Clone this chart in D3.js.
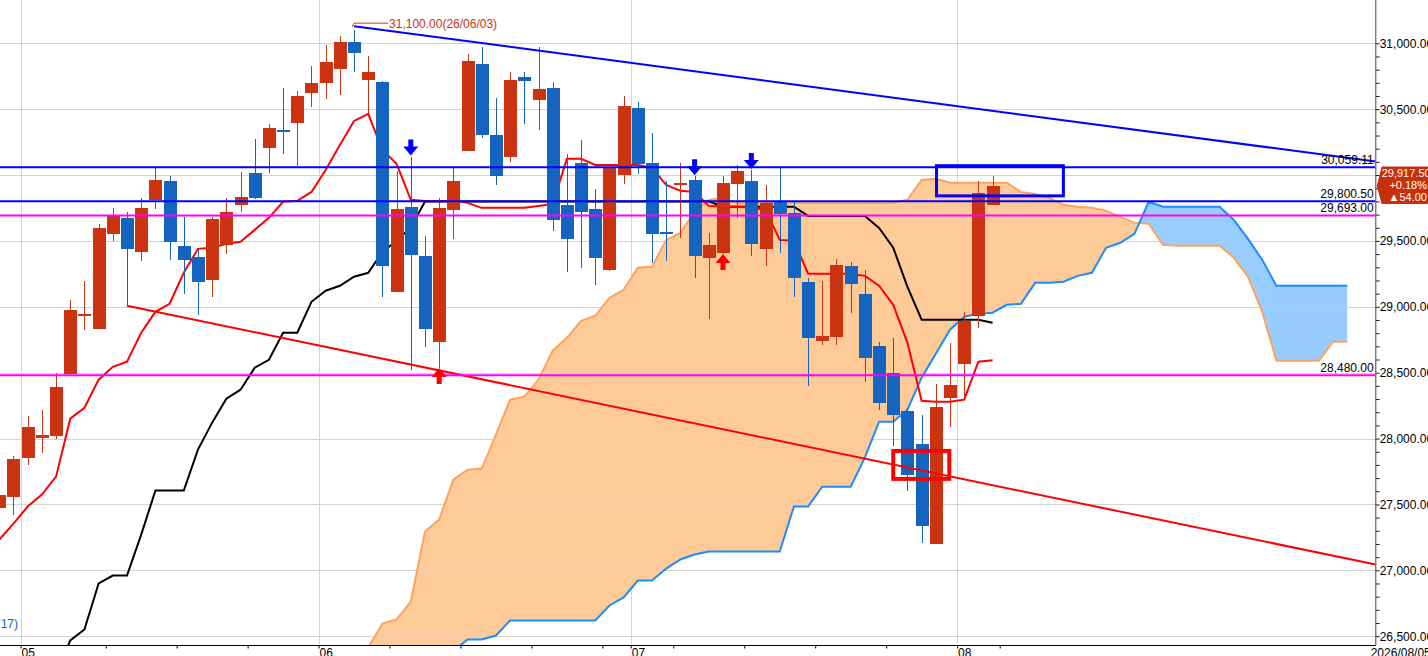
<!DOCTYPE html>
<html>
<head>
<meta charset="utf-8">
<script src="https://cdn.jsdelivr.net/npm/d3@7"></script>
<style>
body { margin: 0; background: #fff; overflow: hidden; }
text { font-family: "Liberation Sans", Arial, sans-serif; }
</style>
</head>
<body>
<div id="chart-area"></div>
<script>
// trading days shown (one candle each)
const dates = [
  "2026-04-29","2026-04-30",
  "2026-05-01","2026-05-04","2026-05-05","2026-05-06","2026-05-07","2026-05-08",
  "2026-05-11","2026-05-12","2026-05-13","2026-05-14","2026-05-15",
  "2026-05-18","2026-05-19","2026-05-20","2026-05-21","2026-05-22",
  "2026-05-25","2026-05-26","2026-05-27","2026-05-28","2026-05-29",
  "2026-06-01","2026-06-02","2026-06-03","2026-06-04","2026-06-05",
  "2026-06-08","2026-06-09","2026-06-10","2026-06-11","2026-06-12",
  "2026-06-15","2026-06-16","2026-06-17","2026-06-18","2026-06-19",
  "2026-06-22","2026-06-23","2026-06-24","2026-06-25","2026-06-26",
  "2026-06-29","2026-06-30",
  "2026-07-01","2026-07-02","2026-07-03",
  "2026-07-06","2026-07-07","2026-07-08","2026-07-09","2026-07-10",
  "2026-07-13","2026-07-14","2026-07-15","2026-07-16","2026-07-17",
  "2026-07-20","2026-07-21","2026-07-22","2026-07-23","2026-07-24",
  "2026-07-27","2026-07-28","2026-07-29","2026-07-30","2026-07-31",
  "2026-08-03","2026-08-04","2026-08-05"
];

const open = [27470,27554,27850,28002,28017,28490,28927,28828,29549,29677,
  29417,29812,29956,29463,29379,29200,29470,29776,30016,30208,
  30343,30398,30623,30701,30807,31010,30722,30707,29116,29759,
  29387,28730,29738,30186,30843,30305,30140,30742,30572,30661,
  29774,30092,29743,29276,30001,30509,30092,29571,29928,29963,
  29367,29405,29935,29956,29442,29806,29711,29190,28742,28773,
  29311,29099,28705,28500,28212,27961,27201,28310,28563,28930,
  29776];
const high = [27600,27870,28168,28219,28498,29053,29197,29630,29751,29721,
  29825,30057,29994,29683,29438,29680,29827,30024,30277,30388,
  30659,30638,30830,30987,31055,31100,30904,30715,30032,30140,
  29539,29825,30057,30919,30974,30585,30785,30785,30970,30707,
  30160,30267,29895,30070,30600,30555,30320,29956,30092,29990,
  29561,29994,30080,30039,29928,30062,29799,29218,29197,29364,
  29341,29281,28735,28765,28232,28181,28416,28727,28962,29956,
  29996];
const low = [27440,27418,27797,27888,28000,28480,28821,28828,29503,29008,
  29349,29743,29357,29097,28937,29078,29402,29721,29820,30019,
  30163,30072,30517,30580,30610,30785,30469,29071,29110,28517,
  28692,28535,29518,30180,30280,29928,30100,30388,30345,29579,
  29268,29298,29162,29270,29935,30011,29329,29349,29526,29215,
  28911,29400,29677,29389,29306,29408,29078,28402,28712,28707,
  28955,28432,28214,27941,27605,27208,27200,28085,28320,28839,
  29770];
const close = [27575,27848,28090,28030,28394,28978,28942,29599,29693,29438,
  29751,29963,29495,29359,29185,29668,29721,29834,29829,30358,
  30333,30600,30699,30858,31010,30929,30785,29306,29743,29395,
  28828,29749,29956,30866,30305,29996,30722,30716,30653,29660,
  29511,29721,29367,30064,30525,30085,29549,29549,29943,29389,
  29470,29941,30032,29473,29789,29703,29222,28767,28780,29319,
  29175,28614,28272,28181,27726,27334,28242,28409,28894,29863.5,
  29917.5];

// conversion line (red) and base line (black), one value per candle
const tenkan = [27233,27355,27484,27575,27711,28151,28234,28447,28545,28583,
  28803,28962,29023,29258,29440,29448,29478,29493,29584,29675,
  29797,29804,29872,30039,30229,30411,30464,30191,30085,29812,
  29804,29804,29804,29789,29751,29751,29751,29751,29766,29781,
  30123,30123,30077,30077,30077,30077,30054,29926,29880,29872,
  29766,29759,29759,29751,29736,29508,29501,29251,29251,29251,
  29251,29235,29160,29015,28727,28287,28280,28280,28295,28583,
  28595];
const kijun = [null,null,null,null,26200,26468,26551,26900,26960,26960,
  27271,27605,27605,27605,27916,28121,28303,28371,28538,28598,
  28803,28803,29038,29122,29160,29228,29258,29417,29501,29602,
  29800,29800,29800,29800,29800,29800,29800,29800,29800,29800,
  29800,29800,29800,29800,29800,29800,29800,29800,29800,29800,
  29800,29760,29760,29760,29760,29760,29760,29690,29690,29690,
  29690,29690,29599,29448,29152,28902,28902,28902,28902,28902,
  28879];

// cloud spans, starting at bar index 26 and running to bar 95
const cloudStart = 26;
const spanA = [26414,26596,26627,26763,27294,27385,27688,27764,27772,28030,
  28295,28318,28447,28667,28765,28894,28932,29069,29129,29296,
  29304,29508,29561,29721,29812,29827,29789,29781,29789,29789,
  29789,29789,29789,29789,29789,29789,29789,29789,29812,29963,
  29971,29941,29941,29941,29941,29941,29872,29857,29827,29774,
  29759,29751,29728,29683,29637,29630,29470,29463,29463,29463,
  29463,29372,29228,28962,28591,28591,28591,28591,28735,28735];
const spanB = [26250,26250,26250,26250,26250,26250,26384,26475,26475,26505,
  26619,26619,26619,26619,26619,26619,26619,26733,26794,26922,
  26922,27013,27082,27120,27142,27142,27142,27142,27142,27142,
  27484,27484,27635,27635,27635,27855,28128,28128,28219,28462,
  28644,28826,28925,28947,28955,29015,29023,29182,29182,29190,
  29235,29258,29448,29486,29554,29797,29759,29759,29759,29759,
  29759,29660,29516,29357,29160,29160,29160,29160,29160,29160];

// price levels and trend lines
const levels = [30059.11, 29800.50, 29693.00, 28480.00];
const trendDown = [[25, 31130], [97, 30102]];
const trendUp = [[9, 29008], [97, 27044]];

// signals (bar index)
const sellSignals = [29, 49, 53];
const buySignals = [31, 51];

// highlighted zones [bar from, bar to, price top, price bottom]
const zoneBlue = [66.05, 74.99, 30071, 29842];
const zoneRed = [63.0, 66.95, 27906, 27694];

const highIndex = 25;
const highLabel = "31,100.00(26/06/03)";
const lastChangePct = "+0.18%";
const lastChange = "\u25B254.00";

const yTickValues = d3.range(26500, 31001, 100);

// ---------------------------------------------------------------
const width = 1428, height = 656;
const plotRight = 1375.7, plotBottom = 645;
const red = "#cc3311", blue = "#1565c0";

const x = d3.scaleLinear().domain([0, 97]).range([-0.7, plotRight]);
const y = d3.scaleLinear().domain([26500, 31000]).range([636.2, 43.3]);
const fmt = d3.format(",.2f");

let svg = d3.select("#chart-area").append("svg")
  .attr("width", width)
  .attr("height", height);

let defs = svg.append("defs");
defs.append("clipPath").attr("id", "plotClip")
  .append("rect").attr("x", 0).attr("y", 0)
  .attr("width", plotRight).attr("height", plotBottom);

let cloud = spanA.map((a, i) => ({ k: cloudStart + i, a: a, b: spanB[i] }));

defs.append("clipPath").attr("id", "aboveB")
  .append("path")
  .attr("d", d3.area().x(d => x(d.k)).y0(-50).y1(d => y(d.b))(cloud));
defs.append("clipPath").attr("id", "belowB")
  .append("path")
  .attr("d", d3.area().x(d => x(d.k)).y0(d => y(d.b)).y1(2000)(cloud));

let plot = svg.append("g").attr("clip-path", "url(#plotClip)");

// grid
let monthMarks = [], weekMarks = [];
let parse = d3.timeParse("%Y-%m-%d");
let lastMonthAt = -10;
dates.forEach((d, i) => {
  if (i === 0) return;
  let t = parse(d), p = parse(dates[i - 1]);
  if (t.getMonth() !== p.getMonth()) {
    monthMarks.push({ k: i - 0.5, label: d3.timeFormat("%m")(t) });
    lastMonthAt = i;
  } else if (t.getDay() === 1 && i - lastMonthAt > 2) {
    weekMarks.push(i - 0.5);
  }
});
weekMarks.push(dates.length - 0.5);

function drawGrid(g, opacity) {
  g.attr("shape-rendering", "crispEdges").attr("opacity", opacity);
  g.selectAll("line.h").data(yTickValues.filter(v => v % 500 === 0)).join("line")
    .attr("class", "h")
    .attr("x1", 0).attr("x2", plotRight)
    .attr("y1", d => Math.round(y(d)) + 0.5).attr("y2", d => Math.round(y(d)) + 0.5)
    .attr("stroke", "#d3d3d3");
  g.selectAll("line.v").data(monthMarks).join("line")
    .attr("class", "v")
    .attr("x1", d => Math.round(x(d.k)) + 0.5).attr("x2", d => Math.round(x(d.k)) + 0.5)
    .attr("y1", 0).attr("y2", plotBottom)
    .attr("stroke", "#d3d3d3");
}
drawGrid(plot.append("g"), 1);

// cloud fill
let fillArea = d3.area().x(d => x(d.k)).y0(d => y(d.a)).y1(d => y(d.b));
plot.append("path").attr("d", fillArea(cloud))
  .attr("fill", "#fdca98").attr("clip-path", "url(#aboveB)");
plot.append("path").attr("d", fillArea(cloud))
  .attr("fill", "#99ccff").attr("clip-path", "url(#belowB)");

drawGrid(plot.append("g"), 0.3);

// cloud edges
plot.append("path")
  .attr("d", d3.line().x(d => x(d.k)).y(d => y(d.a))(cloud))
  .attr("fill", "none").attr("stroke", "#ffa35c").attr("stroke-width", 2);
plot.append("path")
  .attr("d", d3.line().x(d => x(d.k)).y(d => y(d.b))(cloud))
  .attr("fill", "none").attr("stroke", "#1a8cff").attr("stroke-width", 2);

// base and conversion lines
let idxLine = d3.line().defined(d => d.v != null).x(d => x(d.k)).y(d => y(d.v));
plot.append("path")
  .attr("d", idxLine(kijun.map((v, k) => ({ k: k, v: v }))))
  .attr("fill", "none").attr("stroke", "#000").attr("stroke-width", 2);
plot.append("path")
  .attr("d", idxLine(tenkan.map((v, k) => ({ k: k, v: v }))))
  .attr("fill", "none").attr("stroke", "#ff0000").attr("stroke-width", 2);

// candles
let candles = dates.map((d, i) => ({ k: i, o: open[i], h: high[i], l: low[i], c: close[i] }));
let cg = plot.append("g").attr("shape-rendering", "crispEdges");
cg.selectAll("line").data(candles).join("line")
  .attr("x1", d => Math.round(x(d.k)) + 0.5).attr("x2", d => Math.round(x(d.k)) + 0.5)
  .attr("y1", d => y(d.h)).attr("y2", d => y(d.l))
  .attr("stroke", d => d.c >= d.o ? red : blue);
cg.selectAll("rect").data(candles).join("rect")
  .attr("x", d => Math.round(x(d.k)) - 6)
  .attr("width", 13)
  .attr("y", d => y(Math.max(d.o, d.c)))
  .attr("height", d => Math.max(2, Math.abs(y(d.o) - y(d.c))))
  .attr("fill", d => d.c >= d.o ? red : blue);

// trend lines
let ptLine = d3.line().x(d => x(d[0])).y(d => y(d[1]));
plot.append("path").attr("d", ptLine(trendDown))
  .attr("fill", "none").attr("stroke", "#0000ff").attr("stroke-width", 2);
plot.append("path").attr("d", ptLine(trendUp))
  .attr("fill", "none").attr("stroke", "#ff0000").attr("stroke-width", 2);

// horizontal levels
let levelColor = ["#0000ff", "#0000ff", "#ff00ff", "#ff00ff"];
plot.selectAll("line.level").data(levels).join("line")
  .attr("class", "level")
  .attr("x1", 0).attr("x2", plotRight)
  .attr("y1", d => y(d)).attr("y2", d => y(d))
  .attr("stroke", (d, i) => levelColor[i]).attr("stroke-width", 2);

svg.selectAll("text.level").data(levels).join("text")
  .attr("class", "level")
  .attr("x", plotRight - 2)
  .attr("y", d => y(d) - 3.5)
  .attr("text-anchor", "end")
  .attr("font-size", "12px")
  .attr("fill", "#000")
  .text(d => fmt(d));

// zones
[[zoneBlue, "#0000ff", 3], [zoneRed, "#ff0000", 4]].forEach(([z, col, w]) => {
  svg.append("rect")
    .attr("x", x(z[0])).attr("y", y(z[2]))
    .attr("width", x(z[1]) - x(z[0])).attr("height", y(z[3]) - y(z[2]))
    .attr("fill", "none").attr("stroke", col).attr("stroke-width", w);
});

// signal arrows
sellSignals.forEach(k => {
  let cx = x(k), t = y(high[k]) - 1;
  svg.append("path")
    .attr("d", `M${cx - 2.5},${t - 16}h5v7h5L${cx},${t}L${cx - 7.5},${t - 9}h5Z`)
    .attr("fill", "#0000ff");
});
buySignals.forEach(k => {
  let cx = x(k), t = y(low[k]);
  svg.append("path")
    .attr("d", `M${cx - 2.5},${t + 16}h5v-7h5L${cx},${t}L${cx - 7.5},${t + 9}h5Z`)
    .attr("fill", "#ff0000");
});

// high annotation
let hx = x(highIndex), hy = y(high[highIndex]);
svg.append("path")
  .attr("d", `M${hx - 2},${hy - 3}L${hx},${hy - 7}H${hx + 34}`)
  .attr("fill", "none").attr("stroke", red).attr("stroke-width", 1);
svg.append("text")
  .attr("x", hx + 35).attr("y", hy - 2.5)
  .attr("font-size", "12px").attr("fill", red)
  .text(highLabel);

// last price tag position (axis labels under it are hidden)
let lastClose = close[close.length - 1];
let ly = y(lastClose);
let tagTop = ly - 19.5, tagBottom = ly + 18;

// right axis
svg.append("line")
  .attr("x1", plotRight).attr("x2", plotRight)
  .attr("y1", 0).attr("y2", plotBottom)
  .attr("stroke", "#808080").attr("stroke-width", 1.5);
let yAxis = d3.axisRight(y)
  .tickValues(yTickValues)
  .tickSize(4)
  .tickPadding(0)
  .tickFormat(d => (d % 500 === 0 && (y(d) < tagTop - 6 || y(d) > tagBottom + 6)) ? fmt(d) : "");
svg.append("g")
  .attr("transform", "translate(" + plotRight + ",0)")
  .call(yAxis)
  .call(g => g.select(".domain").remove())
  .call(g => g.selectAll(".tick line").attr("stroke", "#222"))
  .call(g => g.selectAll(".tick text")
    .attr("font-size", "12px")
    .attr("font-family", "Liberation Sans, Arial, sans-serif")
    .attr("fill", "#000"));

// bottom axis
svg.append("line")
  .attr("x1", 0).attr("x2", plotRight)
  .attr("y1", plotBottom + 0.5).attr("y2", plotBottom + 0.5)
  .attr("stroke", "#000");
let xAxis = d3.axisBottom(x)
  .tickValues(weekMarks.concat(monthMarks.map(m => m.k)))
  .tickSize(3)
  .tickFormat("");
svg.append("g")
  .attr("transform", "translate(0," + (plotBottom + 0.5) + ")")
  .call(xAxis)
  .call(g => g.select(".domain").remove());
svg.selectAll("text.month").data(monthMarks).join("text")
  .attr("class", "month")
  .attr("x", d => x(d.k) + 1)
  .attr("y", 657)
  .attr("font-size", "12px")
  .attr("fill", "#000")
  .text(d => d.label);
svg.append("text")
  .attr("x", plotRight - 5).attr("y", 657)
  .attr("font-size", "12px").attr("fill", "#000")
  .text(dates[dates.length - 1].replace(/-/g, "/"));

// last price tag
svg.append("path")
  .attr("d", `M${plotRight + 1},${ly}L${plotRight + 6},${tagTop}H${width}V${tagBottom}H${plotRight + 6}Z`)
  .attr("fill", "#c8300c");
let tag = svg.append("g").attr("font-size", "11px").attr("fill", "#fff");
tag.append("text").attr("x", plotRight + 6).attr("y", ly - 8.5).text(fmt(lastClose));
tag.append("text").attr("x", width - 1).attr("y", ly + 3.5).attr("text-anchor", "end").text(lastChangePct);
tag.append("text").attr("x", width - 1).attr("y", ly + 15).attr("text-anchor", "end").text(lastChange);

// legend fragment at left edge
svg.append("text")
  .attr("x", 18).attr("y", 628)
  .attr("text-anchor", "end")
  .attr("font-size", "12px").attr("fill", blue)
  .text("'17)");
</script>
</body>
</html>
